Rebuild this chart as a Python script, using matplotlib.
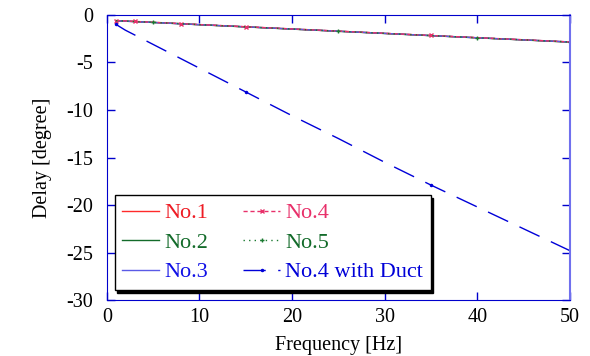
import matplotlib.pyplot as plt
import numpy as np

plt.rcParams['font.family'] = ['Liberation Serif', 'DejaVu Serif']
plt.rcParams['axes.unicode_minus'] = False

# frequency [Hz] and delay [degree]
freq = [1, 2, 3, 5, 8, 10, 15, 20, 25, 30, 35, 40, 45, 50]
no1 = [-0.60, -0.64, -0.69, -0.78, -0.92, -1.02, -1.25, -1.48, -1.71, -1.94, -2.17, -2.40, -2.62, -2.85]
no2 = [-0.62, -0.66, -0.70, -0.79, -0.93, -1.03, -1.26, -1.49, -1.72, -1.95, -2.18, -2.41, -2.63, -2.86]
no3 = [-0.61, -0.65, -0.70, -0.79, -0.93, -1.02, -1.25, -1.48, -1.71, -1.94, -2.17, -2.40, -2.62, -2.84]
no4 = [-0.59, -0.63, -0.68, -0.77, -0.91, -1.01, -1.24, -1.47, -1.70, -1.93, -2.16, -2.39, -2.61, -2.84]
no5 = [-0.60, -0.64, -0.69, -0.78, -0.92, -1.02, -1.25, -1.48, -1.71, -1.94, -2.17, -2.40, -2.62, -2.85]
duct = [-1.0, -1.6, -2.1, -3.1, -4.6, -5.6, -8.1, -10.6, -13.0, -15.5, -17.9, -20.2, -22.5, -24.8]

fig = plt.figure(figsize=(5.9, 3.56), dpi=100)
ax = fig.add_axes([0.181, 0.157, 0.785, 0.801])

ax.plot(freq, no1, color='#ff2a2a', lw=1, label='No.1')
ax.plot(freq, no2, color='#136b2a', lw=1, label='No.2')
ax.plot(freq, no3, color='#5a5ae6', lw=1, label='No.3')
ax.plot(freq, no4, color='#e8306a', lw=1, dashes=(3, 2), marker='x', ms=3, mew=1,
        markevery=[0, 2, 4, 6, 10], label='No.4')
ax.plot(freq, no5, color='#1a7a30', lw=1, dashes=(1, 3), marker='+', ms=3, mew=1,
        markevery=[3, 8, 11, 13], label='No.5')
ax.plot(freq, duct, color='#0000d8', lw=1, dashes=(16, 9), marker='.', ms=3,
        markevery=[0, 6, 10], label='No.4 with Duct')

ax.set_xlim(0, 50)
ax.set_ylim(-30, 0)
ax.set_xticks([0, 10, 20, 30, 40, 50])
ax.set_yticks([0, -5, -10, -15, -20, -25, -30])
ax.tick_params(direction='in', top=True, right=True, length=6, width=1,
               color='#0000cc', labelsize=14.5, pad=6)
ax.tick_params(axis='y', pad=10)
for s in ax.spines.values():
    s.set_color('#0000cc')
ax.spines['right'].set_color('#7070ee')
ax.spines['right'].set_linewidth(1.5)

ax.set_xlabel('Frequency [Hz]', fontsize=14.5, labelpad=6)
ax.set_ylabel('Delay [degree]', fontsize=14.5, labelpad=10)

text_colors = ['#ee1c24', '#136b2a', '#1010e6', '#e8306a', '#136b2a', '#0000d8']
leg = ax.legend(loc='lower left', bbox_to_anchor=(0.017, 0.035), ncol=2, fontsize=16,
                fancybox=False, shadow={'color': 'black', 'alpha': 1},
                edgecolor='black', framealpha=1, handlelength=1.65,
                columnspacing=1.6, handletextpad=0.22, labelspacing=0.4,
                borderaxespad=0, borderpad=0.35)
leg.get_frame().set_linewidth(1)
for txt, c in zip(leg.get_texts(), text_colors):
    txt.set_color(c)

fig.savefig('out.png', dpi=100)
